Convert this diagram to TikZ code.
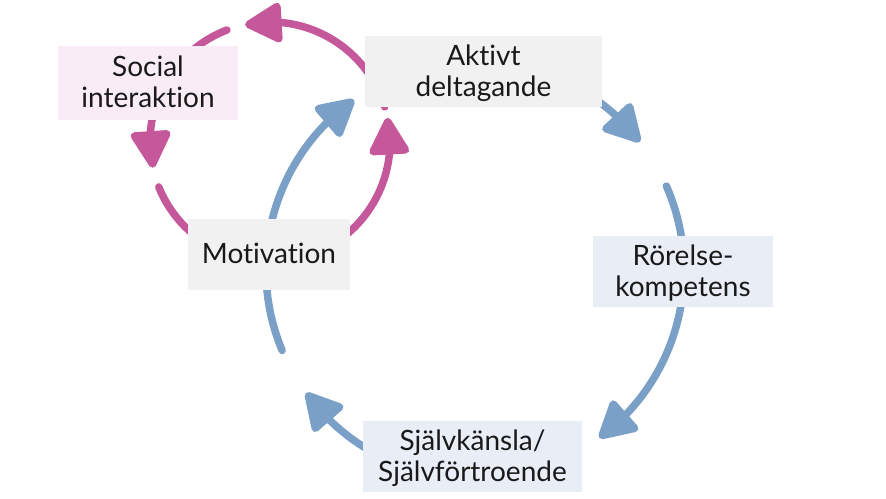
\documentclass[tikz,border=0pt]{standalone}
\usepackage{fontspec}
\setmainfont{Lato}[Ligatures={NoCommon}]
\usetikzlibrary{arrows.meta,bending,calc}
\definecolor{arrblue}{RGB}{122,160,200}
\definecolor{arrpink}{RGB}{196,88,155}
\definecolor{boxgray}{RGB}{241,241,241}
\definecolor{boxpink}{RGB}{249,236,246}
\definecolor{boxblue}{RGB}{232,237,246}
\definecolor{txtcol}{RGB}{25,25,25}
\newcommand\tline[1]{\rule[-2pt]{0pt}{22pt}\smash{#1}}
\begin{document}
\begin{tikzpicture}[x=1pt,y=1pt,
  box/.style={rectangle, inner sep=0pt, align=center, text=txtcol,
    font=\fontsize{28}{31}\selectfont},
  flow/.style={line width=7.5pt, line cap=round,
    -{Triangle[length=41pt,width=43pt,round,flex]}}]
\useasboundingbox (0,0) rectangle (886,-498);
\coordinate (bc) at (475,-270);
\coordinate (pc) at (270,-142);
% blue cycle
\draw[flow, arrblue] ($(bc)+(60:209pt)$) arc[start angle=60, end angle=37.8, radius=209pt];
\draw[flow, arrblue] ($(bc)+(23.7:209pt)$) arc[start angle=23.7, end angle=-53.5, radius=209pt];
\draw[flow, arrblue] ($(bc)+(250:209pt)$) arc[start angle=250, end angle=216, radius=209pt];
\draw[flow, arrblue] ($(bc)+(202.6:209pt)$) arc[start angle=202.6, end angle=125.4, radius=209pt];
% pink cycle
\draw[flow, arrpink] ($(pc)+(17:120pt)$) arc[start angle=17, end angle=102, radius=120pt];
\draw[flow, arrpink] ($(pc)+(111:120pt)$) arc[start angle=111, end angle=192.4, radius=120pt];
\draw[flow, arrpink] ($(pc)+(202:120pt)$) arc[start angle=202, end angle=371.6, radius=120pt];
% boxes
\node[box, fill=boxpink, minimum width=180pt, minimum height=74pt] (soc) at (148,-83) {\tline{Social}\\\tline{interaktion}};
\node[box, fill=boxgray, minimum width=237pt, minimum height=71pt] (akt) at (483.5,-71.5) {\tline{Aktivt}\\\tline{deltagande}};
\node[box, fill=boxgray, minimum width=162pt, minimum height=71pt] (mot) at (269,-254.5) {\tline{Motivation}};
\node[box, fill=boxblue, minimum width=180pt, minimum height=71pt] (ror) at (683,-271.5) {\tline{Rörelse-}\\\tline{kompetens}};
\node[box, fill=boxblue, minimum width=219pt, minimum height=71pt] (sjalv) at (472.5,-456.5) {\tline{Självkänsla/}\\\tline{Självförtroende}};
\end{tikzpicture}
\end{document}
